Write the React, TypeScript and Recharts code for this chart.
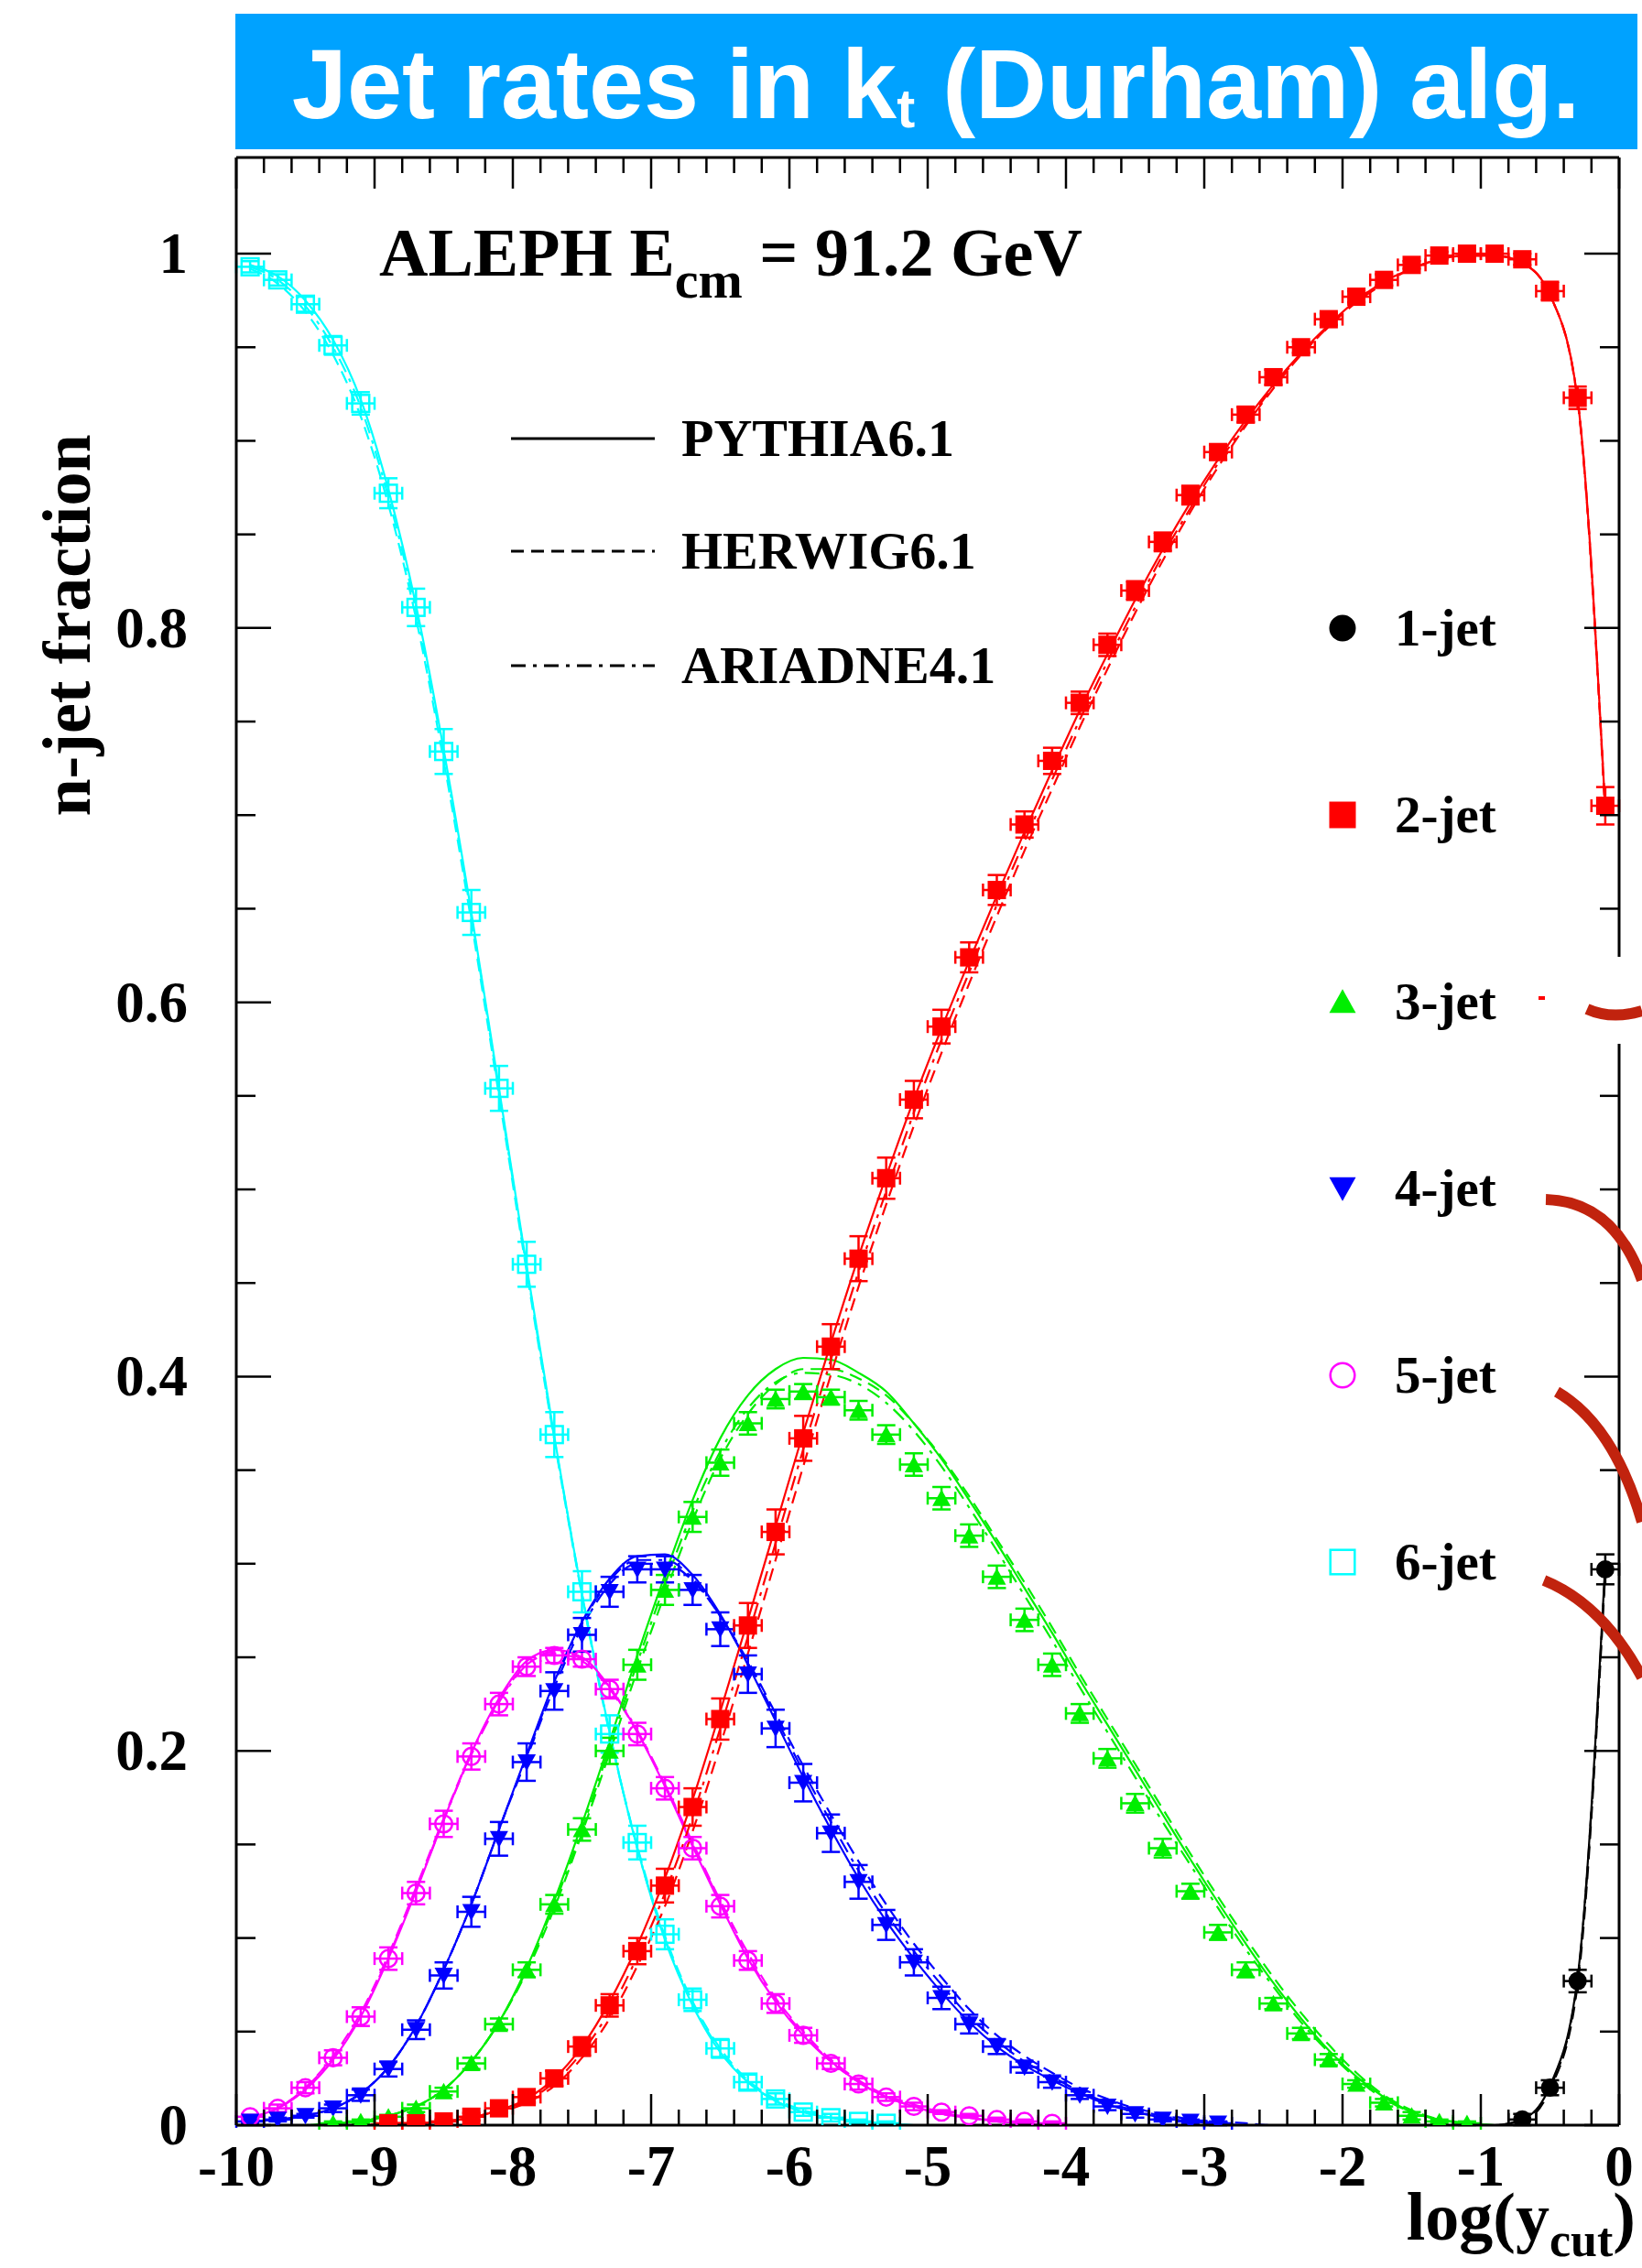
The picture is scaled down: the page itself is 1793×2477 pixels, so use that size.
import { ComposedChart, Line, Scatter, XAxis, YAxis, ErrorBar } from 'recharts';

// bin centres in log(y_cut)
const logYcut = [
  -9.9, -9.7, -9.5, -9.3, -9.1, -8.9, -8.7, -8.5, -8.3, -8.1,
  -7.9, -7.7, -7.5, -7.3, -7.1, -6.9, -6.7, -6.5, -6.3, -6.1,
  -5.9, -5.7, -5.5, -5.3, -5.1, -4.9, -4.7, -4.5, -4.3, -4.1,
  -3.9, -3.7, -3.5, -3.3, -3.1, -2.9, -2.7, -2.5, -2.3, -2.1,
  -1.9, -1.7, -1.5, -1.3, -1.1, -0.9, -0.7, -0.5, -0.3, -0.1,
];
const BIN_HALF = 0.1;

const xMajorLabels = [-10, -9, -8, -7, -6, -5, -4, -3, -2, -1, 0];
const yMajorLabels = [0, 0.2, 0.4, 0.6, 0.8, 1];

// ALEPH data
const jet1 = [
  0, 0, 0, 0, 0, 0, 0, 0, 0, 0,
  0, 0, 0, 0, 0, 0, 0, 0, 0, 0,
  0, 0, 0, 0, 0, 0, 0, 0, 0, 0,
  0, 0, 0, 0, 0, 0, 0, 0, 0, 0,
  0, 0, 0, 0, 0, 0, 0.003, 0.020, 0.077, 0.297,
];
const jet2 = [
  0, 0, 0, 0, 0, 0.001, 0.001, 0.002, 0.0045, 0.009,
  0.015, 0.025, 0.042, 0.064, 0.093, 0.128, 0.170, 0.217, 0.267, 0.317,
  0.367, 0.416, 0.463, 0.506, 0.548, 0.587, 0.624, 0.660, 0.695, 0.729,
  0.760, 0.791, 0.820, 0.846, 0.871, 0.894, 0.914, 0.934, 0.950, 0.965,
  0.977, 0.986, 0.994, 0.999, 1.000, 1.000, 0.997, 0.980, 0.923, 0.705,
];
const jet3 = [
  0, 0, 0, 0.001, 0.002, 0.0045, 0.009, 0.018, 0.033, 0.054,
  0.083, 0.118, 0.158, 0.200, 0.246, 0.286, 0.325, 0.354, 0.375, 0.388,
  0.392, 0.389, 0.382, 0.369, 0.353, 0.335, 0.315, 0.293, 0.270, 0.246,
  0.220, 0.196, 0.172, 0.148, 0.125, 0.103, 0.083, 0.065, 0.049, 0.035,
  0.022, 0.012, 0.005, 0.002, 0.001, 0, 0, 0, 0, 0,
];
const jet4 = [
  0.002, 0.003, 0.005, 0.009, 0.016, 0.030, 0.051, 0.080, 0.114, 0.153,
  0.194, 0.232, 0.262, 0.285, 0.297, 0.297, 0.286, 0.265, 0.241, 0.212,
  0.183, 0.156, 0.130, 0.107, 0.087, 0.068, 0.054, 0.042, 0.031, 0.023,
  0.016, 0.010, 0.006, 0.003, 0.002, 0.001, 0, 0, 0, 0,
  0, 0, 0, 0, 0, 0, 0, 0, 0, 0,
];
const jet5 = [
  0.0045, 0.009, 0.020, 0.036, 0.058, 0.089, 0.124, 0.161, 0.197, 0.225,
  0.245, 0.251, 0.249, 0.233, 0.209, 0.180, 0.148, 0.117, 0.088, 0.065,
  0.048, 0.033, 0.022, 0.015, 0.010, 0.007, 0.005, 0.003, 0.002, 0.001,
  0, 0, 0, 0, 0, 0, 0, 0, 0, 0,
  0, 0, 0, 0, 0, 0, 0, 0, 0, 0,
];
const jet6 = [
  0.993, 0.986, 0.973, 0.951, 0.920, 0.872, 0.811, 0.734, 0.648, 0.554,
  0.460, 0.369, 0.285, 0.209, 0.151, 0.102, 0.067, 0.041, 0.023, 0.014,
  0.007, 0.004, 0.002, 0.001, 0, 0, 0, 0, 0, 0,
  0, 0, 0, 0, 0, 0, 0, 0, 0, 0,
  0, 0, 0, 0, 0, 0, 0, 0, 0, 0,
];

// vertical errors
const err1 = [
  0, 0, 0, 0, 0, 0, 0, 0, 0, 0, 0, 0, 0, 0, 0, 0, 0, 0, 0, 0,
  0, 0, 0, 0, 0, 0, 0, 0, 0, 0, 0, 0, 0, 0, 0, 0, 0, 0, 0, 0,
  0, 0, 0, 0, 0, 0, 0.003, 0.004, 0.006, 0.008,
];
const err2 = [
  0.001, 0.001, 0.001, 0.001, 0.001, 0.001, 0.001, 0.001, 0.002, 0.002,
  0.003, 0.004, 0.005, 0.006, 0.007, 0.009, 0.010, 0.011, 0.012, 0.012,
  0.012, 0.012, 0.012, 0.011, 0.010, 0.009, 0.008, 0.008, 0.007, 0.007,
  0.006, 0.006, 0.005, 0.005, 0.005, 0.004, 0.004, 0.004, 0.003, 0.003,
  0.003, 0.003, 0.002, 0.002, 0.002, 0.002, 0.003, 0.005, 0.006, 0.010,
];
const err3 = [
  0.001, 0.001, 0.001, 0.001, 0.001, 0.001, 0.002, 0.002, 0.003, 0.003,
  0.004, 0.005, 0.006, 0.007, 0.008, 0.008, 0.008, 0.007, 0.006, 0.005,
  0.004, 0.004, 0.005, 0.005, 0.006, 0.006, 0.006, 0.006, 0.006, 0.006,
  0.005, 0.005, 0.005, 0.005, 0.004, 0.004, 0.004, 0.003, 0.003, 0.003,
  0.002, 0.002, 0.002, 0.001, 0.001, 0, 0, 0, 0, 0,
];
const err4 = [
  0.001, 0.001, 0.001, 0.002, 0.003, 0.004, 0.005, 0.007, 0.008, 0.009,
  0.010, 0.010, 0.009, 0.008, 0.007, 0.007, 0.008, 0.009, 0.010, 0.010,
  0.010, 0.010, 0.009, 0.008, 0.007, 0.006, 0.005, 0.004, 0.003, 0.003,
  0.002, 0.002, 0.002, 0.001, 0.001, 0.001, 0, 0, 0, 0,
  0, 0, 0, 0, 0, 0, 0, 0, 0, 0,
];
const err5 = [
  0.001, 0.002, 0.003, 0.004, 0.005, 0.006, 0.006, 0.007, 0.007, 0.006,
  0.005, 0.004, 0.004, 0.005, 0.006, 0.006, 0.006, 0.006, 0.005, 0.005,
  0.004, 0.003, 0.003, 0.002, 0.002, 0.001, 0.001, 0.001, 0.001, 0.001,
  0, 0, 0, 0, 0, 0, 0, 0, 0, 0, 0, 0, 0, 0, 0, 0, 0, 0, 0, 0,
];
const err6 = [
  0.003, 0.003, 0.004, 0.005, 0.006, 0.008, 0.010, 0.012, 0.012, 0.012,
  0.012, 0.012, 0.011, 0.010, 0.009, 0.008, 0.006, 0.005, 0.004, 0.003,
  0.002, 0.002, 0.001, 0.001, 0, 0, 0, 0, 0, 0,
  0, 0, 0, 0, 0, 0, 0, 0, 0, 0, 0, 0, 0, 0, 0, 0, 0, 0, 0, 0,
];

// PYTHIA6.1
const pythia1 = [
  0, 0, 0, 0, 0, 0, 0, 0, 0, 0, 0, 0, 0, 0, 0, 0, 0, 0, 0, 0,
  0, 0, 0, 0, 0, 0, 0, 0, 0, 0, 0, 0, 0, 0, 0, 0, 0, 0, 0, 0,
  0, 0, 0, 0, 0, 0, 0.003, 0.021, 0.079, 0.300,
];
const pythia2 = [
  0, 0, 0, 0, 0, 0.001, 0.001, 0.002, 0.004, 0.008,
  0.014, 0.025, 0.042, 0.066, 0.096, 0.132, 0.174, 0.221, 0.270, 0.320,
  0.370, 0.418, 0.464, 0.507, 0.548, 0.586, 0.622, 0.657, 0.691, 0.724,
  0.756, 0.786, 0.815, 0.842, 0.867, 0.890, 0.911, 0.930, 0.947, 0.962,
  0.975, 0.985, 0.992, 0.997, 0.999, 0.999, 0.995, 0.978, 0.922, 0.703,
];
const pythia3 = [
  0, 0, 0, 0.001, 0.002, 0.005, 0.010, 0.019, 0.034, 0.055,
  0.084, 0.120, 0.161, 0.205, 0.251, 0.294, 0.334, 0.367, 0.390, 0.404,
  0.410, 0.409, 0.402, 0.392, 0.375, 0.356, 0.334, 0.311, 0.287, 0.263,
  0.238, 0.214, 0.190, 0.166, 0.142, 0.119, 0.097, 0.076, 0.057, 0.040,
  0.026, 0.015, 0.007, 0.003, 0.001, 0, 0, 0, 0, 0,
];
const pythia4 = [
  0.002, 0.003, 0.005, 0.009, 0.017, 0.031, 0.053, 0.083, 0.118, 0.158,
  0.198, 0.237, 0.269, 0.292, 0.304, 0.305, 0.294, 0.273, 0.246, 0.216,
  0.186, 0.158, 0.132, 0.109, 0.089, 0.071, 0.055, 0.042, 0.032, 0.024,
  0.017, 0.011, 0.007, 0.004, 0.002, 0.001, 0, 0, 0, 0,
  0, 0, 0, 0, 0, 0, 0, 0, 0, 0,
];
const pythia5 = [
  0.004, 0.009, 0.019, 0.035, 0.058, 0.089, 0.125, 0.163, 0.199, 0.228,
  0.248, 0.254, 0.250, 0.234, 0.210, 0.181, 0.149, 0.118, 0.089, 0.066,
  0.048, 0.034, 0.023, 0.015, 0.010, 0.006, 0.004, 0.002, 0.001, 0,
  0, 0, 0, 0, 0, 0, 0, 0, 0, 0, 0, 0, 0, 0, 0, 0, 0, 0, 0, 0,
];
const pythia6 = [
  0.994, 0.988, 0.975, 0.954, 0.922, 0.874, 0.812, 0.735, 0.648, 0.554,
  0.459, 0.368, 0.284, 0.210, 0.148, 0.099, 0.064, 0.039, 0.023, 0.013,
  0.007, 0.004, 0.002, 0.001, 0, 0, 0, 0, 0, 0,
  0, 0, 0, 0, 0, 0, 0, 0, 0, 0, 0, 0, 0, 0, 0, 0, 0, 0, 0, 0,
];

// HERWIG6.1
const herwig1 = [
  0, 0, 0, 0, 0, 0, 0, 0, 0, 0, 0, 0, 0, 0, 0, 0, 0, 0, 0, 0,
  0, 0, 0, 0, 0, 0, 0, 0, 0, 0, 0, 0, 0, 0, 0, 0, 0, 0, 0, 0,
  0, 0, 0, 0, 0, 0, 0.002, 0.019, 0.075, 0.295,
];
const herwig2 = [
  0, 0, 0, 0, 0, 0.001, 0.001, 0.002, 0.004, 0.007,
  0.012, 0.021, 0.036, 0.057, 0.085, 0.117, 0.157, 0.203, 0.252, 0.302,
  0.352, 0.401, 0.448, 0.492, 0.534, 0.573, 0.610, 0.646, 0.681, 0.714,
  0.747, 0.778, 0.808, 0.836, 0.862, 0.886, 0.908, 0.928, 0.946, 0.961,
  0.974, 0.984, 0.992, 0.997, 0.999, 0.999, 0.995, 0.978, 0.921, 0.700,
];
const herwig3 = [
  0, 0, 0, 0.001, 0.002, 0.005, 0.010, 0.019, 0.034, 0.055,
  0.082, 0.116, 0.156, 0.199, 0.243, 0.284, 0.323, 0.356, 0.380, 0.396,
  0.404, 0.404, 0.399, 0.390, 0.375, 0.357, 0.336, 0.313, 0.290, 0.266,
  0.241, 0.217, 0.193, 0.169, 0.145, 0.122, 0.100, 0.079, 0.060, 0.043,
  0.028, 0.016, 0.008, 0.003, 0.001, 0, 0, 0, 0, 0,
];
const herwig4 = [
  0.002, 0.003, 0.005, 0.009, 0.017, 0.031, 0.053, 0.083, 0.118, 0.158,
  0.196, 0.234, 0.266, 0.289, 0.300, 0.300, 0.291, 0.272, 0.248, 0.220,
  0.192, 0.166, 0.141, 0.118, 0.097, 0.079, 0.062, 0.048, 0.037, 0.028,
  0.020, 0.014, 0.009, 0.006, 0.003, 0.002, 0.001, 0, 0, 0,
  0, 0, 0, 0, 0, 0, 0, 0, 0, 0,
];
const herwig5 = [
  0.004, 0.009, 0.020, 0.037, 0.060, 0.091, 0.127, 0.164, 0.199, 0.227,
  0.246, 0.252, 0.248, 0.233, 0.210, 0.182, 0.151, 0.120, 0.092, 0.068,
  0.050, 0.035, 0.024, 0.016, 0.011, 0.007, 0.004, 0.002, 0.001, 0,
  0, 0, 0, 0, 0, 0, 0, 0, 0, 0, 0, 0, 0, 0, 0, 0, 0, 0, 0, 0,
];
const herwig6 = [
  0.992, 0.984, 0.969, 0.946, 0.913, 0.866, 0.805, 0.729, 0.643, 0.550,
  0.456, 0.366, 0.283, 0.209, 0.149, 0.101, 0.066, 0.041, 0.024, 0.014,
  0.008, 0.004, 0.002, 0.001, 0, 0, 0, 0, 0, 0,
  0, 0, 0, 0, 0, 0, 0, 0, 0, 0, 0, 0, 0, 0, 0, 0, 0, 0, 0, 0,
];

// ARIADNE4.1
const ariadne1 = [
  0, 0, 0, 0, 0, 0, 0, 0, 0, 0, 0, 0, 0, 0, 0, 0, 0, 0, 0, 0,
  0, 0, 0, 0, 0, 0, 0, 0, 0, 0, 0, 0, 0, 0, 0, 0, 0, 0, 0, 0,
  0, 0, 0, 0, 0, 0, 0.003, 0.020, 0.078, 0.298,
];
const ariadne2 = [
  0, 0, 0, 0, 0, 0.001, 0.001, 0.002, 0.004, 0.008,
  0.013, 0.023, 0.039, 0.061, 0.090, 0.124, 0.165, 0.212, 0.261, 0.311,
  0.361, 0.409, 0.456, 0.499, 0.541, 0.580, 0.616, 0.652, 0.686, 0.719,
  0.751, 0.782, 0.811, 0.839, 0.864, 0.888, 0.909, 0.929, 0.946, 0.961,
  0.975, 0.985, 0.992, 0.997, 0.999, 0.999, 0.995, 0.978, 0.922, 0.703,
];
const ariadne3 = [
  0, 0, 0, 0.001, 0.002, 0.005, 0.010, 0.019, 0.034, 0.055,
  0.083, 0.118, 0.158, 0.202, 0.247, 0.289, 0.328, 0.360, 0.383, 0.397,
  0.402, 0.401, 0.396, 0.386, 0.371, 0.352, 0.330, 0.307, 0.283, 0.259,
  0.234, 0.210, 0.186, 0.162, 0.139, 0.116, 0.094, 0.074, 0.055, 0.039,
  0.025, 0.014, 0.007, 0.003, 0.001, 0, 0, 0, 0, 0,
];
const ariadne4 = [
  0.002, 0.003, 0.005, 0.009, 0.017, 0.031, 0.053, 0.083, 0.118, 0.158,
  0.197, 0.236, 0.268, 0.291, 0.302, 0.302, 0.292, 0.272, 0.247, 0.218,
  0.189, 0.162, 0.136, 0.113, 0.093, 0.075, 0.058, 0.045, 0.034, 0.026,
  0.018, 0.012, 0.008, 0.005, 0.003, 0.001, 0, 0, 0, 0,
  0, 0, 0, 0, 0, 0, 0, 0, 0, 0,
];
const ariadne5 = [
  0.004, 0.009, 0.020, 0.036, 0.059, 0.090, 0.126, 0.163, 0.198, 0.226,
  0.246, 0.253, 0.249, 0.234, 0.211, 0.182, 0.150, 0.119, 0.090, 0.067,
  0.049, 0.034, 0.023, 0.015, 0.010, 0.006, 0.004, 0.002, 0.001, 0,
  0, 0, 0, 0, 0, 0, 0, 0, 0, 0, 0, 0, 0, 0, 0, 0, 0, 0, 0, 0,
];
const ariadne6 = [
  0.993, 0.986, 0.972, 0.950, 0.918, 0.870, 0.809, 0.732, 0.646, 0.552,
  0.458, 0.367, 0.284, 0.210, 0.148, 0.100, 0.065, 0.040, 0.023, 0.013,
  0.007, 0.004, 0.002, 0.001, 0, 0, 0, 0, 0, 0,
  0, 0, 0, 0, 0, 0, 0, 0, 0, 0, 0, 0, 0, 0, 0, 0, 0, 0, 0, 0,
];

const colors = ['#000000', '#ff0000', '#00ee00', '#0000ff', '#ff00ff', '#00ffff'];
const jetNames = ['1-jet', '2-jet', '3-jet', '4-jet', '5-jet', '6-jet'];
const dataSets = [jet1, jet2, jet3, jet4, jet5, jet6];
const errSets = [err1, err2, err3, err4, err5, err6];
const pythiaSets = [pythia1, pythia2, pythia3, pythia4, pythia5, pythia6];
const herwigSets = [herwig1, herwig2, herwig3, herwig4, herwig5, herwig6];
const ariadneSets = [ariadne1, ariadne2, ariadne3, ariadne4, ariadne5, ariadne6];

const rows = logYcut.map((x, i) => {
  const r: any = { x };
  for (let j = 0; j < 6; j++) {
    r['p' + j] = pythiaSets[j][i];
    r['h' + j] = herwigSets[j][i];
    r['a' + j] = ariadneSets[j][i];
  }
  return r;
});

const points = dataSets.map((vals, j) =>
  logYcut
    .map((x, i) => ({ x, y: vals[i], ex: BIN_HALF, ey: errSets[j][i] }))
    .filter((p) => p.y > 0)
);

const xTicks: number[] = [];
xMajorLabels.forEach((m, i) => {
  if (i === xMajorLabels.length - 1) { xTicks.push(m); return; }
  for (let s = 0; s < 5; s++) xTicks.push(Math.round((m + s * 0.2) * 10) / 10);
});
const yTicks: number[] = [];
for (let i = 0; i < yMajorLabels.length - 1; i++) {
  for (let s = 0; s < 4; s++) yTicks.push(Math.round((yMajorLabels[i] + s * 0.05) * 100) / 100);
}
yTicks.push(1);

const PLOT_TOP = 172;
const PLOT_BOTTOM = 2321;
const PLOT_LEFT = 258;
const PLOT_RIGHT = 1768;
const Y_MAX = 1.0514;

const SERIF = '"Liberation Serif", "Times New Roman", serif';
const isMajorX = (v: number) => Math.abs(v - Math.round(v)) < 1e-6;
const isMajorY = (v: number) => yMajorLabels.some((m) => Math.abs(m - v) < 1e-6);
const fmtY = (v: number) => (v === 0 ? '0' : v === 1 ? '1' : v.toFixed(1));

const BottomTick = (p: any) => {
  const v = p.payload.value;
  const major = isMajorX(v);
  return (
    <g>
      <line x1={p.x} x2={p.x} y1={PLOT_BOTTOM} y2={PLOT_BOTTOM - (major ? 34 : 17)} stroke="#000" strokeWidth={2.5} />
      {major && (
        <text x={p.x} y={PLOT_BOTTOM + 66} textAnchor="middle" fontFamily={SERIF} fontWeight="bold" fontSize={63} fill="#000">
          {String(v)}
        </text>
      )}
    </g>
  );
};
const TopTick = (p: any) => {
  const major = isMajorX(p.payload.value);
  return <line x1={p.x} x2={p.x} y1={PLOT_TOP} y2={PLOT_TOP + (major ? 34 : 17)} stroke="#000" strokeWidth={2.5} />;
};
const LeftTick = (p: any) => {
  const v = p.payload.value;
  const major = isMajorY(v);
  return (
    <g>
      <line x1={PLOT_LEFT} x2={PLOT_LEFT + (major ? 38 : 21)} y1={p.y} y2={p.y} stroke="#000" strokeWidth={2.5} />
      {major && (
        <text x={PLOT_LEFT - 53} y={p.y + 21} textAnchor="end" fontFamily={SERIF} fontWeight="bold" fontSize={63} fill="#000">
          {fmtY(v)}
        </text>
      )}
    </g>
  );
};
const RightTick = (p: any) => {
  const major = isMajorY(p.payload.value);
  return <line x1={PLOT_RIGHT} x2={PLOT_RIGHT - (major ? 38 : 21)} y1={p.y} y2={p.y} stroke="#000" strokeWidth={2.5} />;
};

// marker shapes
const markerPath = (kind: number, cx: number, cy: number, s: number, color: string, key?: string) => {
  const h = s / 2;
  switch (kind) {
    case 0:
      return <circle key={key} cx={cx} cy={cy} r={h} fill={color} />;
    case 1:
      return <rect key={key} x={cx - h} y={cy - h} width={s} height={s} fill={color} />;
    case 2:
      return <path key={key} d={`M${cx - h},${cy + h * 0.85} L${cx + h},${cy + h * 0.85} L${cx},${cy - h * 0.95} Z`} fill={color} />;
    case 3:
      return <path key={key} d={`M${cx - h},${cy - h * 0.85} L${cx + h},${cy - h * 0.85} L${cx},${cy + h * 0.95} Z`} fill={color} />;
    case 4:
      return <circle key={key} cx={cx} cy={cy} r={h - 1.2} fill="none" stroke={color} strokeWidth={2.5} />;
    default:
      return <rect key={key} x={cx - h + 1.2} y={cy - h + 1.2} width={s - 2.4} height={s - 2.4} fill="none" stroke={color} strokeWidth={2.5} />;
  }
};

const mcStyles = [
  { key: 'p', dash: undefined, label: 'PYTHIA6.1' },
  { key: 'h', dash: '14 8', label: 'HERWIG6.1' },
  { key: 'a', dash: '16 8 4 8', label: 'ARIADNE4.1' },
];

export default function App() {
  return (
    <div style={{ position: 'relative', width: 1793, height: 2477, background: '#fff' }}>
      <style>{'body{margin:0}'}</style>
      <ComposedChart width={1793} height={2477} data={rows} margin={{ top: 171, right: 24, bottom: 0, left: 0 }}>
        <XAxis
          dataKey="x" type="number" domain={[-10, 0]} ticks={xTicks} interval={0} allowDataOverflow
          height={156} tickLine={false} tickSize={0} tick={(p: any) => <BottomTick {...p} />}
          axisLine={{ stroke: '#000', strokeWidth: 3 }}
        />
        <XAxis
          xAxisId="top" orientation="top" dataKey="x" type="number" domain={[-10, 0]} ticks={xTicks} interval={0}
          allowDataOverflow height={1} tickLine={false} tickSize={0} tick={(p: any) => <TopTick {...p} />}
          axisLine={{ stroke: '#000', strokeWidth: 3 }}
        />
        <YAxis
          type="number" domain={[0, Y_MAX]} ticks={yTicks} interval={0} allowDataOverflow width={258}
          tickLine={false} tickSize={0} tick={(p: any) => <LeftTick {...p} />}
          axisLine={{ stroke: '#000', strokeWidth: 3 }}
        />
        <YAxis
          yAxisId="right" orientation="right" type="number" domain={[0, Y_MAX]} ticks={yTicks} interval={0}
          allowDataOverflow width={1} tickLine={false} tickSize={0} tick={(p: any) => <RightTick {...p} />}
          axisLine={{ stroke: '#000', strokeWidth: 3 }}
        />
        {[5, 4, 3, 2, 1, 0].flatMap((j) =>
          mcStyles.map((m) => (
            <Line
              key={m.key + j}
              dataKey={m.key + j}
              type="monotone"
              stroke={colors[j]}
              strokeWidth={2.2}
              strokeDasharray={m.dash}
              dot={false}
              activeDot={false}
              isAnimationActive={false}
            />
          ))
        )}
        {[5, 4, 3, 2, 1, 0].map((j) => (
          <Scatter
            key={'s' + j}
            data={points[j]}
            dataKey="y"
            fill={colors[j]}
            isAnimationActive={false}
            shape={(p: any) => markerPath(j, p.cx, p.cy, j >= 4 ? 21 : 20, colors[j])}
          >
            <ErrorBar dataKey="ex" direction="x" width={7} stroke={colors[j]} strokeWidth={2.5} />
            <ErrorBar dataKey="ey" direction="y" width={10} stroke={colors[j]} strokeWidth={2.5} />
          </Scatter>
        ))}
      </ComposedChart>

      <svg
        width={1793}
        height={2477}
        style={{ position: 'absolute', left: 0, top: 0, pointerEvents: 'none', whiteSpace: 'pre' }}
      >
        <rect x={257} y={15} width={1531} height={148} fill="#00a2ff" />
        <text x={1022} y={129} textAnchor="middle" fill="#fff" fontFamily='"Liberation Sans", Arial, sans-serif' fontWeight="bold" fontSize={108}>
          Jet rates in k<tspan fontSize={60} dy={10}>t</tspan>
          <tspan dy={-10}> (Durham) alg.</tspan>
        </text>

        <text x={414} y={301} fontFamily={SERIF} fontWeight="bold" fontSize={74} fill="#000">
          ALEPH E<tspan fontSize={58} dy={24}>cm</tspan>
          <tspan dy={-24}> = 91.2 GeV</tspan>
        </text>

        {mcStyles.map((m, i) => {
          const y = [479, 602, 727][i];
          return (
            <g key={m.key}>
              <line x1={558} x2={715} y1={y} y2={y} stroke="#000" strokeWidth={3} strokeDasharray={m.dash} />
              <text x={744} y={y + 19} fontFamily={SERIF} fontWeight="bold" fontSize={58} fill="#000">
                {m.label}
              </text>
            </g>
          );
        })}

        {jetNames.map((name, j) => {
          const y = 686 + j * 204;
          return (
            <g key={name}>
              {markerPath(j, 1466, y, 29, colors[j])}
              <text x={1523} y={y + 19} fontFamily={SERIF} fontWeight="bold" fontSize={57} fill="#000">
                {name}
              </text>
            </g>
          );
        })}

        <text x={1786} y={2446} textAnchor="end" fontFamily={SERIF} fontWeight="bold" fontSize={74} fill="#000">
          log(y<tspan fontSize={52} dy={18}>cut</tspan>
          <tspan dy={-18}>)</tspan>
        </text>
        <text
          x={0} y={0} transform="translate(98,683) rotate(-90)" textAnchor="middle"
          fontFamily={SERIF} fontWeight="bold" fontSize={74} fill="#000"
        >
          n-jet fraction
        </text>

        {/* hand-drawn annotation marks on the right edge */}
        <rect x={1690} y={1045} width={103} height={95} fill="#fff" />
        <rect x={1680} y={1088} width={7} height={4} fill="#ff0000" />
        <g fill="none" stroke="#c1230e" strokeWidth={12} strokeLinecap="butt">
          <path d="M1733,1102 Q1760,1114 1793,1104" />
          <path d="M1688,1310 Q1762,1312 1793,1398" />
          <path d="M1700,1520 Q1762,1556 1793,1662" />
          <path d="M1686,1726 Q1750,1752 1793,1832" />
        </g>
      </svg>
    </div>
  );
}
